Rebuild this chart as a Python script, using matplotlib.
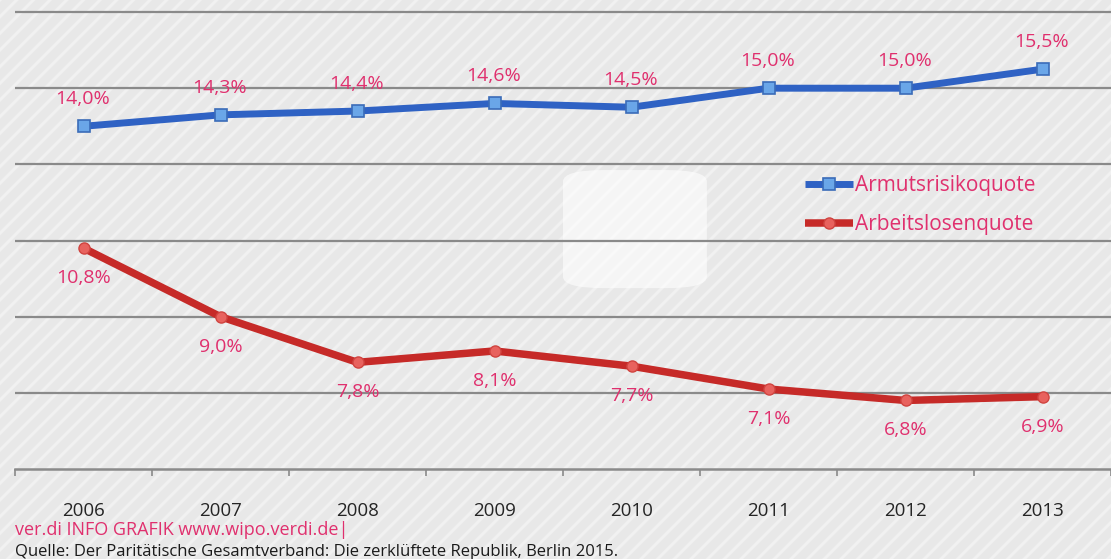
import matplotlib.pyplot as plt
from matplotlib.patches import Rectangle, FancyBboxPatch

years = ["2006", "2007", "2008", "2009", "2010", "2011", "2012", "2013"]
armut = [14.0, 14.3, 14.4, 14.6, 14.5, 15.0, 15.0, 15.5]
arbeitslos = [10.8, 9.0, 7.8, 8.1, 7.7, 7.1, 6.8, 6.9]
gridvals = [5, 7, 9, 11, 13, 15, 17]

pink = "#e0306e"
blue = "#2f62c4"
red = "#c62a28"

plt.rcParams["font.family"] = ["Open Sans", "DejaVu Sans"]
plt.rcParams["hatch.linewidth"] = 2.2

W, H = 1111, 559
fig = plt.figure(figsize=(W / 100, H / 100), dpi=100)
fig.patch.set_facecolor("#e8e8e8")

# striped background over whole figure (hatch takes the edge colour)
bg = Rectangle((0, 0), 1, 1, transform=fig.transFigure, facecolor="#e8e8e8",
               edgecolor="#f1f1f1", linewidth=0, hatch="//", zorder=-10)
fig.patches.append(bg)

ax = fig.add_axes([15 / W, (H - 469) / H, 1 - 15 / W, 469 / H])
ax.set_facecolor("none")
x = list(range(len(years)))
ax.set_xlim(-0.5, len(years) - 0.5)
ax.set_ylim(5, 5 + 469 / 38.08)

# faded watermark
ax.add_patch(FancyBboxPatch((3.55, 9.8), 0.95, 3.0, boxstyle="round,pad=0.05,rounding_size=0.3",
                            facecolor="white", edgecolor="none", alpha=0.6, zorder=0))

for g in gridvals[1:]:
    ax.axhline(g, color="#8a8a8a", lw=1.6, zorder=1)

for s in ["top", "right", "left"]:
    ax.spines[s].set_visible(False)
ax.spines["bottom"].set_color("#8a8a8a")
ax.spines["bottom"].set_linewidth(1.8)
ax.set_yticks([])
ax.set_xticks([i - 0.5 for i in range(len(years) + 1)])
ax.set_xticklabels([])
ax.tick_params(axis="x", direction="out", length=5, width=1.2, color="#8a8a8a")
for i, y in enumerate(years):
    ax.text(i, -0.09, y, transform=ax.get_xaxis_transform(), ha="center", va="center",
            fontsize=13.5, color="#252525")

ax.plot(x, armut, color=blue, lw=5, marker="s", ms=9, mfc="#6aa6e8", mec="#3b6cb8",
        mew=1.2, zorder=4, label="Armutsrisikoquote", solid_capstyle="butt")
ax.plot(x, arbeitslos, color=red, lw=5.4, marker="o", ms=8, mfc="#e8625e", mec="#d04440",
        mew=1, zorder=4, label="Arbeitslosenquote", solid_capstyle="butt")

for i, v in enumerate(armut):
    ax.annotate(f"{v:.1f}%".replace(".", ","), (i, v), xytext=(-1, 19.5), textcoords="offset points",
                ha="center", va="center", fontsize=14, color=pink, zorder=5)
for i, v in enumerate(arbeitslos):
    ax.annotate(f"{v:.1f}%".replace(".", ","), (i, v), xytext=(0, -21.5), textcoords="offset points",
                ha="center", va="center", fontsize=14, color=pink, zorder=5)

leg = ax.legend(loc="upper left", bbox_to_anchor=(795 / W, 1 - 165 / H),
                bbox_transform=fig.transFigure, frameon=False, fontsize=15,
                handlelength=2.3, handletextpad=0.1, labelspacing=0.85, borderpad=0)
for t in leg.get_texts():
    t.set_color(pink)

fig.text(15 / W, 1 - 530 / H, "ver.di INFO GRAFIK www.wipo.verdi.de|", color=pink,
         fontsize=13, ha="left", va="center")
fig.text(15 / W, 1 - 552 / H,
         "Quelle: Der Paritätische Gesamtverband: Die zerklüftete Republik, Berlin 2015.",
         color="#1a1a1a", fontsize=12, ha="left", va="center")

fig.savefig("out.png", dpi=100)
